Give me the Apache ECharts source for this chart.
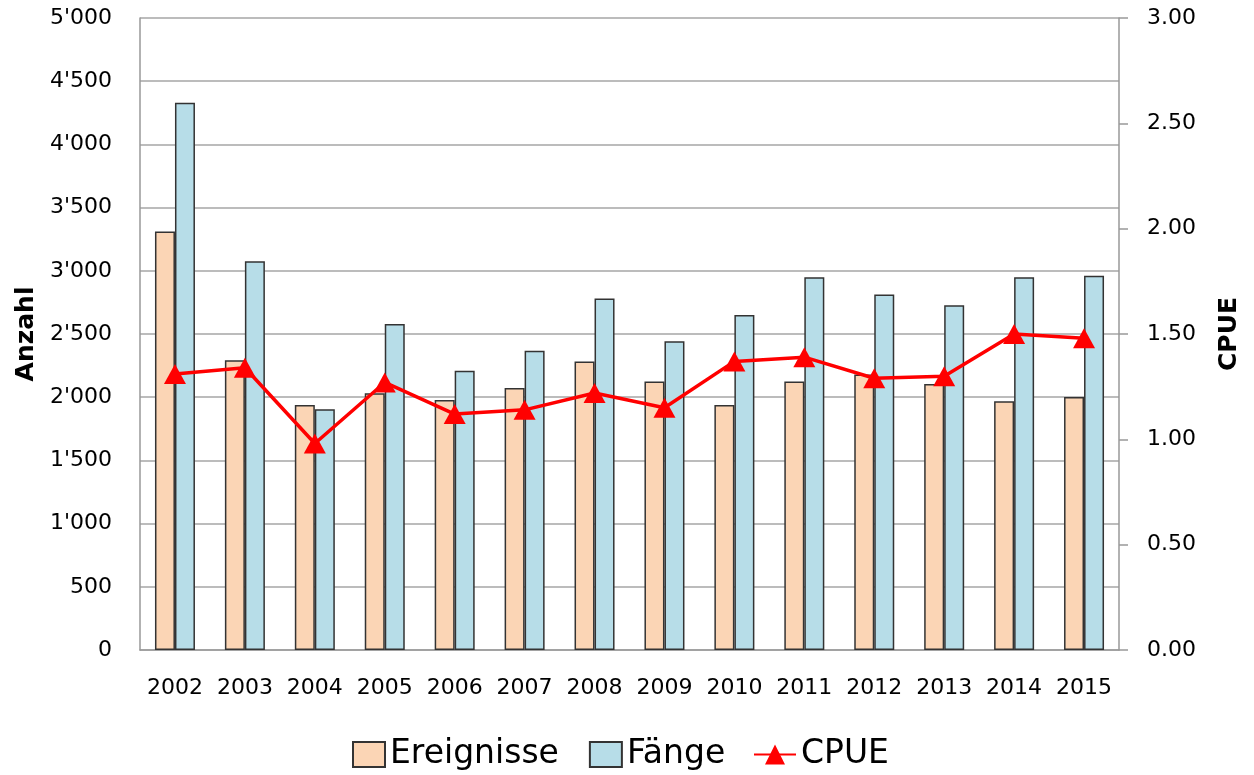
<!DOCTYPE html>
<html>
<head>
<meta charset="utf-8">
<script src="https://cdn.jsdelivr.net/npm/echarts@6/dist/echarts.min.js"></script>
<style>
html,body{margin:0;padding:0;background:#fff;}
#chart{width:1254px;height:775px;}
</style>
</head>
<body>
<div id="chart"></div>
<script>
var years = ['2002','2003','2004','2005','2006','2007','2008','2009','2010','2011','2012','2013','2014','2015'];
var ereignisse = [3310, 2293, 1938, 2032, 1977, 2072, 2283, 2125, 1938, 2125, 2180, 2104, 1967, 2001];
var faenge = [4330, 3075, 1904, 2580, 2209, 2367, 2780, 2443, 2651, 2949, 2812, 2728, 2949, 2960];
var cpue = [1.31, 1.34, 0.98, 1.27, 1.12, 1.14, 1.22, 1.15, 1.37, 1.39, 1.29, 1.30, 1.50, 1.48];
var leftTicks = ['0','500',"1'000","1'500","2'000","2'500","3'000","3'500","4'000","4'500","5'000"];

var font = 'DejaVu Sans';
var chart = echarts.init(document.getElementById('chart'));
chart.setOption({
  animation: false,
  backgroundColor: '#fff',
  textStyle: {fontFamily: font},
  grid: {left: 140, right: 135, top: 18, bottom: 125, containLabel: false},
  legend: [
    {
      left: 347, top: 733,
      itemWidth: 32, itemHeight: 25, itemGap: 30,
      textStyle: {fontFamily: font, fontSize: 33, color: '#000'},
      data: [
        {name: 'Ereignisse', icon: 'rect'},
        {name: 'Fänge', icon: 'rect'}
      ]
    },
    {
      left: 748, top: 733,
      itemWidth: 42, itemHeight: 25,
      textStyle: {fontFamily: font, fontSize: 33, color: '#000'},
      data: [{name: 'CPUE'}]
    }
  ],
  xAxis: {
    type: 'category',
    data: years,
    axisLine: {lineStyle: {color: '#999', width: 1.5}},
    axisTick: {show: false},
    axisLabel: {color: '#000', fontSize: 22, margin: 27, fontFamily: font, interval: 0, hideOverlap: false}
  },
  yAxis: [
    {
      type: 'value', min: 0, max: 5000, interval: 500,
      name: 'Anzahl', nameLocation: 'middle', nameRotate: 90, nameGap: 98,
      nameTextStyle: {fontFamily: font, fontSize: 25, fontWeight: 'bold', color: '#000'},
      axisLine: {show: true, lineStyle: {color: '#999', width: 1.5}},
      axisTick: {show: false},
      axisLabel: {color: '#000', fontSize: 22, margin: 28, fontFamily: font,
        formatter: function (v) { return leftTicks[Math.round(v / 500)]; }},
      splitLine: {lineStyle: {color: '#a6a6a6', width: 1.5}}
    },
    {
      type: 'value', min: 0, max: 3, interval: 0.5,
      name: 'CPUE', nameLocation: 'middle', nameRotate: 90, nameGap: 98,
      nameTextStyle: {fontFamily: font, fontSize: 25, fontWeight: 'bold', color: '#000'},
      axisLine: {show: true, lineStyle: {color: '#999', width: 1.5}},
      axisTick: {show: true, length: 9, inside: false, lineStyle: {color: '#999', width: 1.5}},
      axisLabel: {color: '#000', fontSize: 22, margin: 28, fontFamily: font,
        formatter: function (v) { return v.toFixed(2); }},
      splitLine: {show: false}
    }
  ],
  series: [
    {
      name: 'Ereignisse', type: 'bar', data: ereignisse, barWidth: 20, barGap: '0%',
      itemStyle: {color: '#FBD5B5', borderColor: '#333', borderWidth: 1.5}
    },
    {
      name: 'Fänge', type: 'bar', data: faenge, barWidth: 20, barGap: '0%',
      itemStyle: {color: '#B7DDE8', borderColor: '#333', borderWidth: 1.5}
    },
    {
      name: 'CPUE', type: 'line', yAxisIndex: 1, data: cpue,
      symbol: 'triangle', symbolSize: [22, 20],
      lineStyle: {color: '#FF0000', width: 3.5},
      itemStyle: {color: '#FF0000'}
    }
  ]
});
</script>
</body>
</html>
